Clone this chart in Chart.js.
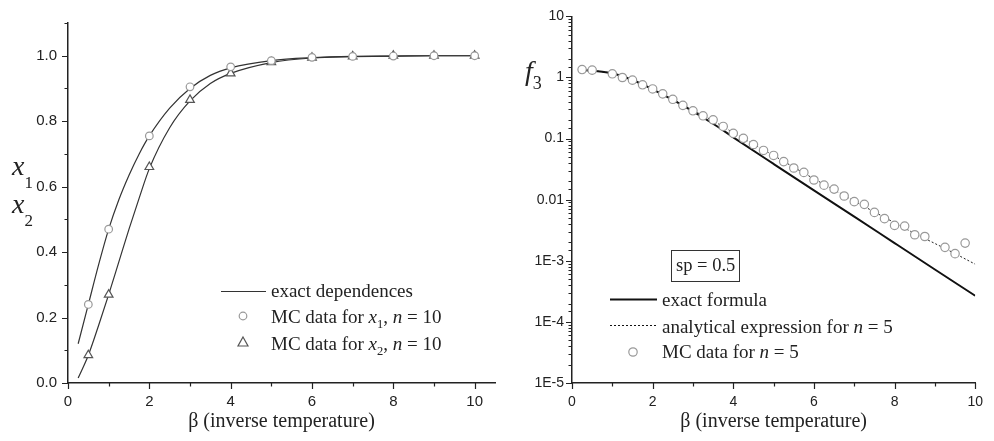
<!DOCTYPE html>
<html><head><meta charset="utf-8">
<script src="https://cdn.jsdelivr.net/npm/chart.js@4.4.1/dist/chart.umd.min.js"></script>
<style>
html,body{margin:0;padding:0;background:#fff;}
#wrap{position:relative;width:994px;height:441px;overflow:hidden;}
canvas{position:absolute;left:0;top:0;}
</style>
</head><body>
<div id="wrap"><canvas id="c1" width="994" height="441"></canvas><canvas id="c2" width="994" height="441"></canvas></div>
<script>
// ---------- Left panel data ----------
const betaMC = [0.5, 1, 2, 3, 4, 5, 6, 7, 8, 9, 10];
const x1MC = [0.24, 0.47, 0.755, 0.905, 0.966, 0.985, 0.995, 0.998, 0.999, 1.0, 1.0];
const x2MC = [0.085, 0.27, 0.66, 0.865, 0.946, 0.980, 0.994, 0.998, 1.0, 1.0, 1.0];
const betaExact = [0.25, 0.5, 0.75, 1, 1.25, 1.5, 1.75, 2, 2.5, 3, 3.5, 4, 5, 6, 7, 8, 9, 10];
const x1Exact = [0.12, 0.24, 0.36, 0.47, 0.56, 0.635, 0.70, 0.755, 0.84, 0.90, 0.94, 0.963, 0.985, 0.994, 0.998, 0.999, 1.0, 1.0];
const x2Exact = [0.015, 0.085, 0.175, 0.27, 0.37, 0.47, 0.565, 0.655, 0.78, 0.862, 0.915, 0.946, 0.979, 0.993, 0.997, 0.999, 1.0, 1.0];
const leftXTickValues = [0, 2, 4, 6, 8, 10];
const leftXTickLabels = ['0', '2', '4', '6', '8', '10'];
const leftYTickValues = [0, 0.2, 0.4, 0.6, 0.8, 1.0];
const leftYTickLabels = ['0.0', '0.2', '0.4', '0.6', '0.8', '1.0'];

// ---------- Right panel data ----------
const betaF3MC = [0.25, 0.5, 1, 1.25, 1.5, 1.75, 2, 2.25, 2.5, 2.75, 3, 3.25, 3.5, 3.75, 4, 4.25, 4.5, 4.75, 5, 5.25, 5.5, 5.75, 6, 6.25, 6.5, 6.75, 7, 7.25, 7.5, 7.75, 8, 8.25, 8.5, 8.75, 9.25, 9.5, 9.75];
const f3MC = [1.35, 1.32, 1.15, 1.0, 0.905, 0.76, 0.65, 0.54, 0.44, 0.35, 0.285, 0.236, 0.203, 0.158, 0.122, 0.101, 0.080, 0.064, 0.053, 0.042, 0.033, 0.028, 0.021, 0.0173, 0.0149, 0.0115, 0.0093, 0.0084, 0.0062, 0.0049, 0.0038, 0.0037, 0.00267, 0.0025, 0.00166, 0.00131, 0.00195];
const betaF3Exact = [0.25, 0.5, 0.75, 1, 1.25, 1.5, 1.75, 2, 2.5, 3, 3.5, 4, 5, 6, 7, 8, 9, 10];
const f3Exact = [1.32, 1.29, 1.24, 1.16, 1.05, 0.91, 0.77, 0.64, 0.43, 0.28, 0.175, 0.105, 0.0385, 0.0142, 0.0053, 0.00195, 0.00072, 0.000268];
const betaF3Anal = [0.25, 0.5, 1, 1.5, 2, 2.5, 3, 3.5, 4, 4.5, 5, 5.5, 6, 6.5, 7, 7.5, 8, 8.5, 9, 9.5, 10];
const f3Anal = [1.32, 1.29, 1.16, 0.91, 0.64, 0.44, 0.29, 0.195, 0.125, 0.081, 0.053, 0.034, 0.022, 0.0145, 0.0095, 0.0063, 0.0042, 0.0028, 0.00192, 0.00131, 0.00088];
const rightXTickValues = [0, 2, 4, 6, 8, 10];
const rightXTickLabels = ['0', '2', '4', '6', '8', '10'];
const rightYTickValues = [1e-5, 1e-4, 1e-3, 0.01, 0.1, 1, 10];
const rightYTickLabels = ['1E-5', '1E-4', '1E-3', '0.01', '0.1', '1', '10'];

// ---------- helpers ----------
const SERIF = '"Liberation Serif","Times New Roman",serif';
const SANS = '"Liberation Sans",Arial,sans-serif';
const INK = '#222';
const pts = (xs, ys) => xs.map((b, i) => ({x: b, y: ys[i]}));
const near = (a, b) => Math.abs(a - b) < 1e-9 * Math.max(1, Math.abs(b));
function labelFrom(values, labels) {
  return v => { const i = values.findIndex(t => near(t, v)); return i >= 0 ? labels[i] : ''; };
}
function runs(ctx, x, y, parts) {
  let cx = x;
  parts.forEach(p => { ctx.font = p[1]; ctx.fillText(p[0], cx, y + (p[2] || 0)); cx += ctx.measureText(p[0]).width; });
}
function tickPlugin(xMajor, yMajor) {
  return {
    id: 'tickMarks',
    afterDraw(chart) {
      const ctx = chart.ctx, xs = chart.scales.x, ys = chart.scales.y;
      ctx.save(); ctx.strokeStyle = INK; ctx.lineWidth = 1.2; ctx.beginPath();
      xs.ticks.forEach(t => { const p = Math.round(xs.getPixelForValue(t.value)) + 0.5; const L = xMajor(t.value) ? 6 : 3.5; ctx.moveTo(p, xs.top); ctx.lineTo(p, xs.top + L); });
      ys.ticks.forEach(t => { const p = Math.round(ys.getPixelForValue(t.value)) + 0.5; const L = yMajor(t.value) ? 6 : 3.5; ctx.moveTo(ys.right, p); ctx.lineTo(ys.right - L, p); });
      ctx.stroke(); ctx.restore();
    }
  };
}
const axisBase = {
  grid: {display: true, drawOnChartArea: false, drawTicks: false},
  border: {display: true, color: INK, width: 1.5}
};

// ---------- Left chart ----------
const leftAnno = {
  id: 'leftAnno',
  afterDraw(chart) {
    const ctx = chart.ctx; ctx.save(); ctx.fillStyle = INK; ctx.textBaseline = 'alphabetic';
    // y title
    runs(ctx, 12, 175, [['x', `italic 28px ${SERIF}`], ['1', `17px ${SERIF}`, 13]]);
    runs(ctx, 12, 213, [['x', `italic 28px ${SERIF}`], ['2', `17px ${SERIF}`, 13]]);
    // legend
    ctx.strokeStyle = '#333'; ctx.lineWidth = 1.2;
    ctx.beginPath(); ctx.moveTo(221, 291.5); ctx.lineTo(266, 291.5); ctx.stroke();
    runs(ctx, 271, 297, [['exact dependences', `19px ${SERIF}`]]);
    ctx.strokeStyle = '#999'; ctx.fillStyle = '#fff'; ctx.lineWidth = 1.2;
    ctx.beginPath(); ctx.arc(243, 316, 3.8, 0, Math.PI * 2); ctx.fill(); ctx.stroke();
    ctx.strokeStyle = '#555';
    ctx.beginPath(); ctx.moveTo(243, 337); ctx.lineTo(248, 346); ctx.lineTo(238, 346); ctx.closePath(); ctx.fill(); ctx.stroke();
    ctx.fillStyle = INK;
    const N = `19px ${SERIF}`, I = `italic 19px ${SERIF}`, S = `12.5px ${SERIF}`;
    runs(ctx, 271, 323, [['MC data for ', N], ['x', I], ['1', S, 5], [', ', N], ['n', I], [' = 10', N]]);
    runs(ctx, 271, 350, [['MC data for ', N], ['x', I], ['2', S, 5], [', ', N], ['n', I], [' = 10', N]]);
    ctx.restore();
  }
};
new Chart(document.getElementById('c1'), {
  type: 'line',
  data: {
    datasets: [
      {data: pts(betaMC, x1MC), showLine: false, pointStyle: 'circle', pointRadius: 3.8, borderColor: '#999', backgroundColor: '#fff', pointBorderWidth: 1.2, order: 0},
      {data: pts(betaMC, x2MC), showLine: false, pointStyle: 'triangle', pointRadius: 5, borderColor: '#555', backgroundColor: '#fff', pointBorderWidth: 1.2, order: 0},
      {data: pts(betaExact, x1Exact), borderColor: '#333', borderWidth: 1.2, pointRadius: 0, cubicInterpolationMode: 'monotone', fill: false, order: 1},
      {data: pts(betaExact, x2Exact), borderColor: '#333', borderWidth: 1.2, pointRadius: 0, cubicInterpolationMode: 'monotone', fill: false, order: 1}
    ]
  },
  options: {
    responsive: false, animation: false, events: [],
    layout: {padding: {left: 0, top: 23, right: 499, bottom: 0}},
    plugins: {legend: {display: false}, tooltip: {enabled: false}},
    scales: {
      x: {
        ...axisBase, type: 'linear', min: 0, max: 10.5,
        ticks: {stepSize: 1, includeBounds: false, autoSkip: false, maxRotation: 0, padding: 10, color: INK, font: {family: SANS, size: 15}, callback: labelFrom(leftXTickValues, leftXTickLabels)},
        title: {display: true, text: 'β (inverse temperature)', color: INK, font: {family: SERIF, size: 20}, padding: {top: 0, bottom: 7}},
        afterFit: s => { s.height = 58; }
      },
      y: {
        ...axisBase, type: 'linear', min: 0, max: 1.1,
        ticks: {stepSize: 0.1, includeBounds: false, autoSkip: false, padding: 11, color: INK, font: {family: SANS, size: 15}, callback: labelFrom(leftYTickValues, leftYTickLabels)},
        afterFit: s => { s.width = 68; }
      }
    }
  },
  plugins: [tickPlugin(v => leftXTickValues.some(t => near(t, v)), v => leftYTickValues.some(t => near(t, v))), leftAnno]
});

// ---------- Right chart ----------
const rightAnno = {
  id: 'rightAnno',
  afterDraw(chart) {
    const ctx = chart.ctx; ctx.save(); ctx.fillStyle = INK; ctx.textBaseline = 'alphabetic';
    runs(ctx, 525, 80, [['f', `italic 28px ${SERIF}`], ['3', `18px ${SERIF}`, 9]]);
    // box
    ctx.strokeStyle = '#333'; ctx.lineWidth = 1;
    ctx.strokeRect(671.5, 250.5, 68, 31);
    runs(ctx, 676, 271, [['sp = 0.5', `18.5px ${SERIF}`]]);
    // legend
    ctx.strokeStyle = '#111'; ctx.lineWidth = 2;
    ctx.beginPath(); ctx.moveTo(610, 299.5); ctx.lineTo(657, 299.5); ctx.stroke();
    ctx.lineWidth = 1; ctx.setLineDash([2, 2]);
    ctx.beginPath(); ctx.moveTo(610, 325.5); ctx.lineTo(657, 325.5); ctx.stroke();
    ctx.setLineDash([]);
    ctx.strokeStyle = '#999'; ctx.fillStyle = '#fff'; ctx.lineWidth = 1.2;
    ctx.beginPath(); ctx.arc(633, 352, 4.2, 0, Math.PI * 2); ctx.fill(); ctx.stroke();
    ctx.fillStyle = INK;
    const N = `19px ${SERIF}`, I = `italic 19px ${SERIF}`;
    runs(ctx, 662, 306, [['exact formula', N]]);
    runs(ctx, 662, 333, [['analytical expression for ', N], ['n', I], [' = 5', N]]);
    runs(ctx, 662, 358, [['MC data for ', N], ['n', I], [' = 5', N]]);
    ctx.restore();
  }
};
const isDecade = v => { const l = Math.log10(v); return Math.abs(l - Math.round(l)) < 1e-6; };
new Chart(document.getElementById('c2'), {
  type: 'line',
  data: {
    datasets: [
      {data: pts(betaF3MC, f3MC), showLine: false, pointStyle: 'circle', pointRadius: 4.2, borderColor: '#999', backgroundColor: '#fff', pointBorderWidth: 1.2, order: 0},
      {data: pts(betaF3Exact, f3Exact), borderColor: '#111', borderWidth: 2, pointRadius: 0, cubicInterpolationMode: 'monotone', fill: false, order: 1},
      {data: pts(betaF3Anal, f3Anal), borderColor: '#222', borderWidth: 1, borderDash: [2, 2], pointRadius: 0, cubicInterpolationMode: 'monotone', fill: false, order: 1}
    ]
  },
  options: {
    responsive: false, animation: false, events: [],
    layout: {padding: {left: 500, top: 13, right: 7, bottom: 0}},
    plugins: {legend: {display: false}, tooltip: {enabled: false}},
    scales: {
      x: {
        ...axisBase, type: 'linear', min: 0, max: 10,
        ticks: {stepSize: 1, includeBounds: false, autoSkip: false, maxRotation: 0, padding: 11, color: INK, font: {family: SANS, size: 14}, callback: labelFrom(rightXTickValues, rightXTickLabels)},
        title: {display: true, text: 'β (inverse temperature)', color: INK, font: {family: SERIF, size: 20}, padding: {top: 0, bottom: 7}},
        afterFit: s => { s.height = 58; }
      },
      y: {
        ...axisBase, type: 'logarithmic', min: 1e-5, max: 10,
        ticks: {autoSkip: false, padding: 8, color: INK, font: {family: SANS, size: 14}, callback: labelFrom(rightYTickValues, rightYTickLabels)},
        afterFit: s => { s.width = 72; }
      }
    }
  },
  plugins: [tickPlugin(v => rightXTickValues.some(t => near(t, v)), isDecade), rightAnno]
});
</script>
</body></html>
